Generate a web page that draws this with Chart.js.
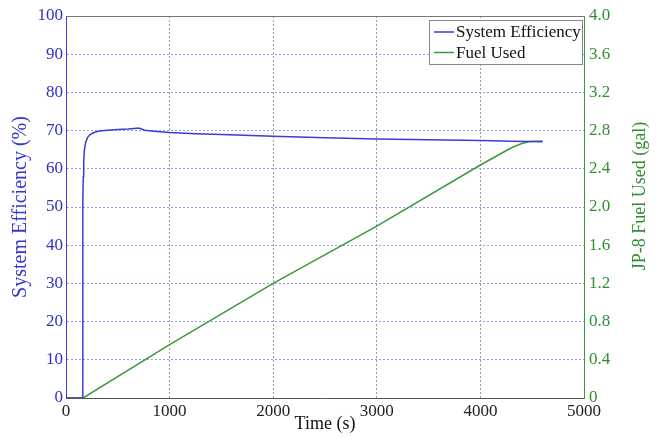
<!DOCTYPE html>
<html lang="en">
<head>
    <meta charset="UTF-8">
    <title>System Efficiency and Fuel Used</title>
    <script src="https://cdn.jsdelivr.net/npm/chart.js"></script>
    <style>
        body {
            margin: 0;
            background: #ffffff;
        }
    </style>
</head>
<body>
    <canvas id="chart" width="661" height="438"></canvas>

    <script>
        // efficiency trace (s, %)
        const effTime  = [0, 160, 161, 162, 164, 167, 171, 178, 190, 210, 235, 270, 320, 400, 500, 600, 680, 710, 760, 850, 1000, 1250, 1500, 2000, 2500, 3000, 3500, 4000, 4300, 4600];
        const effValue = [0, 0, 20, 40, 52, 58, 62, 65, 67, 68.3, 69.0, 69.5, 69.9, 70.1, 70.3, 70.4, 70.6, 70.6, 70.1, 69.8, 69.5, 69.2, 69.0, 68.5, 68.1, 67.8, 67.6, 67.4, 67.2, 67.1];

        // fuel used (s, gal)
        const fuelTime  = [0, 165, 1000, 2000, 3000, 4000, 4100, 4200, 4300, 4400, 4470, 4600];
        const fuelValue = [0, 0, 0.56, 1.20, 1.80, 2.44, 2.50, 2.56, 2.62, 2.665, 2.685, 2.69];

        const xTicks = [0, 1000, 2000, 3000, 4000, 5000];
        const leftTicks = [0, 10, 20, 30, 40, 50, 60, 70, 80, 90, 100];
        const rightTicks = ['0', '0.4', '0.8', '1.2', '1.6', '2.0', '2.4', '2.8', '3.2', '3.6', '4.0'];

        const BLUE = '#3b3bd8';
        const GREEN = '#3a993a';
        const serif = 'Liberation Serif, Times New Roman, serif';

        // legend box inside the plot (top right), top frame line, right axis title
        const boxLegend = {
            id: 'boxLegend',
            afterDraw(chart) {
                const ctx = chart.ctx;
                const a = chart.chartArea;
                ctx.save();
                ctx.strokeStyle = '#777';
                ctx.lineWidth = 1;
                ctx.beginPath();
                ctx.moveTo(a.left, a.top + 0.5);
                ctx.lineTo(a.right, a.top + 0.5);
                ctx.stroke();

                const x0 = a.right - 155, y0 = a.top + 4, w = 154, h = 45;
                ctx.fillStyle = '#fff';
                ctx.fillRect(x0, y0, w, h);
                ctx.strokeStyle = '#888';
                ctx.strokeRect(x0 + 0.5, y0 + 0.5, w - 1, h - 1);
                ctx.font = '17px ' + serif;
                ctx.textBaseline = 'middle';
                chart.data.datasets.forEach((ds, i) => {
                    const ly = y0 + 12 + i * 20.5;
                    ctx.strokeStyle = ds.borderColor;
                    ctx.lineWidth = 1.5;
                    ctx.beginPath();
                    ctx.moveTo(x0 + 5, ly);
                    ctx.lineTo(x0 + 25, ly);
                    ctx.stroke();
                    ctx.fillStyle = '#111';
                    ctx.fillText(ds.label, x0 + 27, ly + 1);
                });

                // right title reads bottom to top, like the left one
                ctx.translate(640, 196);
                ctx.rotate(-Math.PI / 2);
                ctx.textAlign = 'center';
                ctx.textBaseline = 'middle';
                ctx.fillStyle = '#2f8f2f';
                ctx.font = '18px ' + serif;
                ctx.fillText('JP-8 Fuel Used (gal)', 0, 0);
                ctx.restore();
            }
        };

        new Chart(document.getElementById('chart'), {
            type: 'line',
            data: {
                datasets: [{
                    label: 'System Efficiency',
                    data: effTime.map((t, i) => ({ x: t, y: effValue[i] })),
                    borderColor: BLUE,
                    borderWidth: 1.5,
                    pointRadius: 0,
                    tension: 0,
                    yAxisID: 'y'
                }, {
                    label: 'Fuel Used',
                    data: fuelTime.map((t, i) => ({ x: t, y: fuelValue[i] })),
                    borderColor: GREEN,
                    borderWidth: 1.5,
                    pointRadius: 0,
                    tension: 0,
                    yAxisID: 'y1'
                }]
            },
            options: {
                responsive: false,
                animation: false,
                layout: { padding: { top: 16, left: 0, right: 0, bottom: 0 } },
                plugins: {
                    legend: { display: false },
                    tooltip: { enabled: false }
                },
                scales: {
                    x: {
                        type: 'linear',
                        min: 0,
                        max: 5000,
                        afterBuildTicks: s => { s.ticks = xTicks.map(v => ({ value: v })); },
                        afterFit: s => { s.height = 40; },
                        ticks: {
                            color: '#222', padding: 3, font: { family: serif, size: 17 },
                            callback: v => String(v)
                        },
                        grid: { color: '#9a9a9a', drawTicks: false },
                        border: { color: '#555', dash: [2, 2] },
                        title: {
                            display: true, text: 'Time (s)', color: '#111',
                            font: { family: serif, size: 18 }, padding: { top: 0, bottom: 3 }
                        }
                    },
                    y: {
                        position: 'left',
                        min: 0,
                        max: 100,
                        afterBuildTicks: s => { s.ticks = leftTicks.map(v => ({ value: v })); },
                        afterFit: s => { s.width = 66; },
                        ticks: { color: '#2f2fc8', padding: 3, font: { family: serif, size: 17 } },
                        grid: { color: '#9a9af0', drawTicks: false },
                        border: { color: BLUE, dash: [2, 2] },
                        title: {
                            display: true, text: 'System Efficiency (%)', color: '#3535d0',
                            font: { family: serif, size: 20 }, padding: { top: 9, bottom: 0 }
                        }
                    },
                    y1: {
                        position: 'right',
                        min: 0,
                        max: 4,
                        afterBuildTicks: s => { s.ticks = rightTicks.map(v => ({ value: parseFloat(v) })); },
                        afterFit: s => { s.width = 77; },
                        ticks: {
                            color: '#2f8f2f', padding: 5, font: { family: serif, size: 17 },
                            callback: (v, i) => rightTicks[i]
                        },
                        grid: { display: false, drawTicks: false },
                        border: { color: GREEN }
                    }
                }
            },
            plugins: [boxLegend]
        });
    </script>
</body>
</html>
